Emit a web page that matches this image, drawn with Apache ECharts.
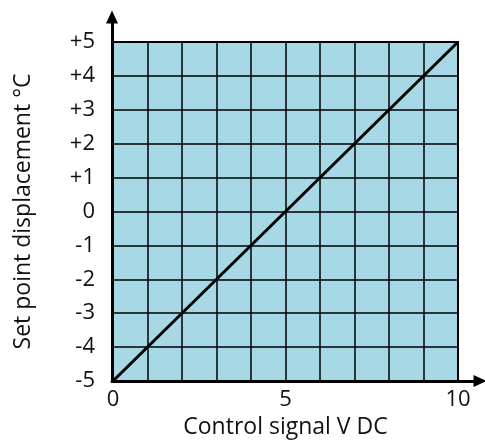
<!DOCTYPE html>
<html>
<head>
<meta charset="utf-8">
<script src="https://cdn.jsdelivr.net/npm/echarts@6/dist/echarts.min.js"></script>
<style>
  html, body { margin: 0; padding: 0; background: #fff; }
  #chart { width: 485px; height: 441px; }
</style>
</head>
<body>
<div id="chart"></div>
<script>
// 控制信号 (V DC) 与设定点偏移 (°C)
const signalV = [0, 10];
const displacement = [-5, 5];
const xLabels = [0, 5, 10];

const chart = echarts.init(document.getElementById('chart'));
const font = '"Open Sans", "Noto Sans", sans-serif';

const option = {
  animation: false,
  grid: [
    {
      // 绘图区
      left: 113, right: 27, top: 42, bottom: 60,
      outerBoundsMode: 'none',
      show: true,
      backgroundColor: '#a7d8e5',
      borderColor: '#000',
      borderWidth: 2
    },
    {
      // 带箭头的坐标轴
      left: 112, right: 5, top: 17, bottom: 60,
      outerBoundsMode: 'none'
    }
  ],
  xAxis: [
    {
      type: 'value', gridIndex: 0,
      min: 0, max: 10, interval: 1,
      name: 'Control signal V DC',
      nameLocation: 'middle',
      nameGap: 30,
      nameTextStyle: { fontFamily: font, fontSize: 23, color: '#111' },
      axisLine: { show: false },
      axisTick: { show: false },
      axisLabel: {
        margin: 8,
        fontFamily: font, fontSize: 22, color: '#111',
        formatter: v => xLabels.includes(v) ? String(v) : ''
      },
      splitLine: { show: true, lineStyle: { color: '#000', width: 1.5 } }
    },
    {
      type: 'value', gridIndex: 1, min: 0, max: 1,
      axisLine: {
        show: true,
        lineStyle: { color: '#000', width: 3 },
        symbol: ['none', 'triangle'],
        symbolSize: [12, 13]
      },
      axisTick: { show: false },
      axisLabel: { show: false },
      splitLine: { show: false }
    }
  ],
  yAxis: [
    {
      type: 'value', gridIndex: 0,
      min: -5, max: 5, interval: 1,
      name: 'Set point displacement °C',
      nameLocation: 'middle',
      nameGap: 78,
      nameRotate: 90,
      nameTextStyle: { fontFamily: font, fontSize: 23, color: '#111' },
      axisLine: { show: false },
      axisTick: { show: false },
      axisLabel: {
        margin: 18,
        fontFamily: font, fontSize: 22, color: '#111',
        formatter: v => v > 0 ? '+' + v : String(v)
      },
      splitLine: { show: true, lineStyle: { color: '#000', width: 1.5 } }
    },
    {
      type: 'value', gridIndex: 1, min: 0, max: 1,
      axisLine: {
        show: true,
        lineStyle: { color: '#000', width: 3 },
        symbol: ['none', 'triangle'],
        symbolSize: [12, 13]
      },
      axisTick: { show: false },
      axisLabel: { show: false },
      splitLine: { show: false }
    }
  ],
  series: [
    {
      type: 'line',
      xAxisIndex: 0, yAxisIndex: 0,
      data: signalV.map((x, i) => [x, displacement[i]]),
      symbol: 'none',
      lineStyle: { color: '#000', width: 3 },
      z: 5
    }
  ]
};

chart.setOption(option);
</script>
</body>
</html>
